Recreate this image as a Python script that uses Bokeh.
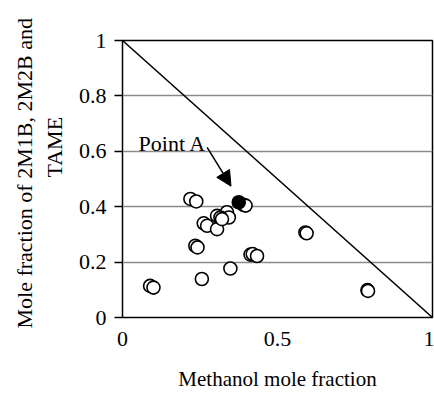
from bokeh.plotting import figure
from bokeh.models import Label, Arrow, NormalHead, FixedTicker, Range1d, Title
from bokeh.embed import file_html
from bokeh.resources import INLINE

# Open circles: methanol mole fraction vs mole fraction of 2M1B, 2M2B and TAME
methanol = [0.089, 0.100, 0.256, 0.348, 0.219, 0.238, 0.235, 0.242,
            0.413, 0.420, 0.434, 0.590, 0.594, 0.790, 0.792, 0.390, 0.397,
            0.262, 0.273, 0.305, 0.305, 0.337, 0.343, 0.316, 0.321]
ethers = [0.114, 0.108, 0.139, 0.177, 0.428, 0.419, 0.259, 0.253,
          0.227, 0.229, 0.222, 0.307, 0.304, 0.099, 0.096, 0.407, 0.404,
          0.340, 0.331, 0.319, 0.367, 0.380, 0.361, 0.361, 0.355]

# Point A (filled)
methanol_a = [0.375]
ethers_a = [0.416]

# Boundary line x + y = 1
boundary_x = [0, 1]
boundary_y = [1, 0]

x_ticks = [0, 0.5, 1]
x_tick_labels = ["0", "0.5", "1"]
y_ticks = [0, 0.2, 0.4, 0.6, 0.8, 1]
y_tick_labels = ["0", "0.2", "0.4", "0.6", "0.8", "1"]

x_title = "Methanol mole fraction"
y_title_1 = "Mole fraction of 2M1B, 2M2B and"
y_title_2 = "TAME"
note_text = "Point A"
note_pos = (0.052, 0.627)
arrow_from = (0.273, 0.614)
arrow_to = (0.350, 0.474)

FONT = "Liberation Serif"

p = figure(width=434, height=396, output_backend="svg", toolbar_location=None,
           x_range=Range1d(0, 1), y_range=Range1d(0, 1),
           min_border_left=122, min_border_right=2,
           min_border_top=40, min_border_bottom=79)
p.background_fill_color = "white"
p.border_fill_color = "white"
p.outline_line_color = "black"
p.outline_line_width = 1.5

p.xgrid.visible = False
p.ygrid.ticker = FixedTicker(ticks=y_ticks)
p.ygrid.grid_line_color = "#8a8a8a"
p.ygrid.grid_line_width = 1.5

p.xaxis.ticker = FixedTicker(ticks=x_ticks)
p.xaxis.major_label_overrides = {t: s for t, s in zip(x_ticks, x_tick_labels)}
p.yaxis.ticker = FixedTicker(ticks=y_ticks)
p.yaxis.major_label_overrides = {t: s for t, s in zip(y_ticks, y_tick_labels)}

for ax in (p.xaxis, p.yaxis):
    ax.axis_line_color = None
    ax.minor_tick_line_color = None
    ax.major_tick_in = 0
    ax.major_label_text_font = FONT
    ax.major_label_text_font_size = "22px"
    ax.major_label_text_color = "black"
    ax.major_tick_line_color = "black"
    ax.major_tick_line_width = 1.5

p.xaxis.major_tick_out = 0
p.xaxis.major_label_standoff = 14
p.xaxis.axis_label = x_title
p.xaxis.axis_label_text_font = FONT
p.xaxis.axis_label_text_font_size = "21px"
p.xaxis.axis_label_text_font_style = "normal"
p.xaxis.axis_label_text_color = "black"
p.xaxis.axis_label_standoff = 18

p.yaxis.major_tick_out = 8
p.yaxis.major_label_standoff = 8

p.line(boundary_x, boundary_y, line_color="black", line_width=1.5)

p.scatter(methanol, ethers, size=13, fill_color="white", line_color="black",
          line_width=1.6)
p.scatter(methanol_a, ethers_a, size=13, fill_color="black", line_color="black",
          line_width=1.6)

p.add_layout(Arrow(end=NormalHead(size=15, fill_color="black", line_color="black"),
                   x_start=arrow_from[0], y_start=arrow_from[1],
                   x_end=arrow_to[0], y_end=arrow_to[1],
                   line_color="black", line_width=1.5))
p.add_layout(Label(x=note_pos[0], y=note_pos[1], text=note_text,
                   text_font=FONT, text_font_size="22px", text_color="black",
                   text_baseline="alphabetic", text_align="left"))

# two-line y-axis title, stacked outward from the axis
p.add_layout(Title(text=y_title_2, align="left", offset=140, standoff=18,
                   text_font=FONT, text_font_size="22px",
                   text_font_style="normal", text_color="black"), "left")
p.add_layout(Title(text=y_title_1, align="left", offset=-11, standoff=-12,
                   text_font=FONT, text_font_size="22px",
                   text_font_style="normal", text_color="black"), "left")

open("out.html", "w").write(file_html(p, INLINE))
